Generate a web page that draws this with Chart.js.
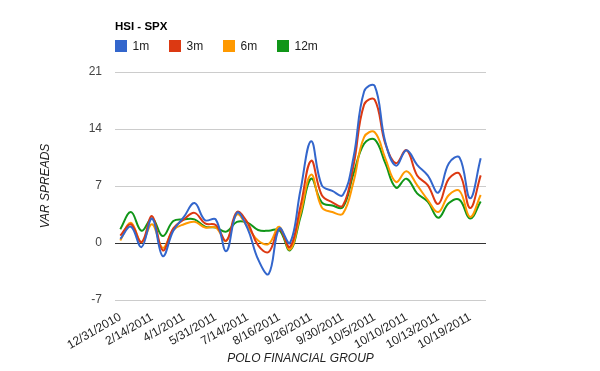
<!DOCTYPE html>
<html>
<head>
    <script src="https://cdn.jsdelivr.net/npm/chart.js@4.4.0/dist/chart.umd.min.js"></script>
    <style>
        body { margin: 0; background: #fff; }
    </style>
</head>
<body>
<canvas id="myChart" width="600" height="371"></canvas>
<script>
var chartTitle = "HSI - SPX";
var tickLabels = ["12/31/2010", "2/14/2011", "4/1/2011", "5/31/2011", "7/14/2011", "8/16/2011",
    "9/26/2011", "9/30/2011", "10/5/2011", "10/10/2011", "10/13/2011", "10/19/2011"];
var seriesNames = ["1m", "3m", "6m", "12m"];
var seriesColors = ["#3366cc", "#dc3912", "#ff9900", "#109618"];

var m1 = [0.5, 2.0, -0.5, 3.0, -1.6, 1.5, 3.2, 4.9, 2.8, 2.9, -1.0, 3.7, 1.8, -2.0, -3.8, 1.8, 0.0,
    6.5, 12.5, 7.1, 6.4, 5.9, 10.5, 18.6, 19.3, 12.4, 9.5, 11.4, 9.6, 8.3, 6.2, 9.8, 10.5, 5.5, 10.4];
var m3 = [0.9, 2.3, 0.1, 3.3, -0.9, 1.8, 2.9, 3.7, 2.4, 2.2, 0.3, 3.8, 2.5, -0.3, -1.1, 1.7, -0.5,
    4.5, 10.1, 5.9, 5.0, 4.6, 9.5, 17.0, 17.6, 12.2, 9.8, 11.4, 8.3, 7.1, 4.8, 7.9, 8.5, 4.3, 8.3];
var m6 = [0.3, 2.5, 0.1, 2.3, -0.6, 1.6, 2.3, 2.6, 1.9, 1.9, 0.25, 3.5, 2.0, 0.3, -0.1, 2.0, -0.8,
    3.6, 8.4, 4.4, 3.8, 3.6, 7.5, 13.0, 13.6, 10.4, 7.5, 8.8, 7.1, 5.3, 3.8, 5.9, 6.4, 3.2, 5.9];
var m12 = [1.7, 3.8, 1.5, 3.0, 0.85, 2.7, 2.9, 2.9, 2.0, 1.9, 1.4, 2.6, 2.5, 1.6, 1.5, 1.6, -0.9,
    3.2, 7.9, 5.0, 4.6, 4.4, 8.5, 12.2, 12.7, 9.8, 6.8, 7.9, 6.1, 5.1, 3.1, 4.9, 5.3, 3.0, 5.1];

// one label every third point, the rest left blank
var labels = [];
for (var i = 0; i < m1.length; i++) labels.push(i % 3 === 0 ? tickLabels[i / 3] : "");

var font = "'Liberation Sans', Arial, sans-serif";
Chart.defaults.font.family = font;

var headerPlugin = {
    id: "header",
    afterDraw: function(chart) {
        var c = chart.ctx, x0 = chart.chartArea.left;
        c.save();
        c.fillStyle = "#000";
        c.font = "bold 11.5px " + font;
        c.textBaseline = "middle";
        c.fillText(chartTitle, x0, 27);
        c.font = "12px " + font;
        var x = x0;
        chart.data.datasets.forEach(function(ds) {
            c.fillStyle = ds.borderColor;
            c.fillRect(x, 40, 12, 12);
            c.fillStyle = "#222";
            c.fillText(ds.label, x + 17.5, 46.5);
            x += 54;
        });
        c.restore();
    }
};

var datasets = [m1, m3, m6, m12].map(function(d, k) {
    return {
        label: seriesNames[k],
        data: d,
        borderColor: seriesColors[k],
        backgroundColor: seriesColors[k],
        borderWidth: 2,
        pointRadius: 0,
        fill: false,
        tension: 0.4
    };
});

new Chart(document.getElementById("myChart").getContext("2d"), {
    type: "line",
    data: { labels: labels, datasets: datasets },
    plugins: [headerPlugin],
    options: {
        responsive: false,
        animation: false,
        layout: { padding: { top: 72, right: 114, left: 0, bottom: 0 } },
        plugins: {
            legend: { display: false },
            tooltip: { enabled: false }
        },
        scales: {
            x: {
                offset: true,
                grid: { display: false },
                border: { display: false },
                ticks: {
                    autoSkip: false,
                    maxRotation: 30,
                    minRotation: 30,
                    padding: 2,
                    color: "#222",
                    font: { size: 12 }
                },
                title: {
                    display: true,
                    text: "POLO FINANCIAL GROUP",
                    color: "#222",
                    font: { size: 12, style: "italic" },
                    padding: { top: 0, bottom: 5 }
                },
                afterFit: function(s) { s.height = 71; }
            },
            y: {
                min: -7,
                max: 21,
                ticks: { stepSize: 7, padding: 13, color: "#444", font: { size: 12 } },
                grid: {
                    drawTicks: false,
                    color: function(ctx) { return ctx.tick && ctx.tick.value === 0 ? "#333" : "#ccc"; }
                },
                border: { display: false },
                title: {
                    display: true,
                    text: "VAR SPREADS",
                    color: "#222",
                    font: { size: 12, style: "italic" },
                    padding: { top: 38, bottom: 0 }
                },
                afterFit: function(s) { s.width = 115; }
            }
        }
    }
});
</script>
</body>
</html>
